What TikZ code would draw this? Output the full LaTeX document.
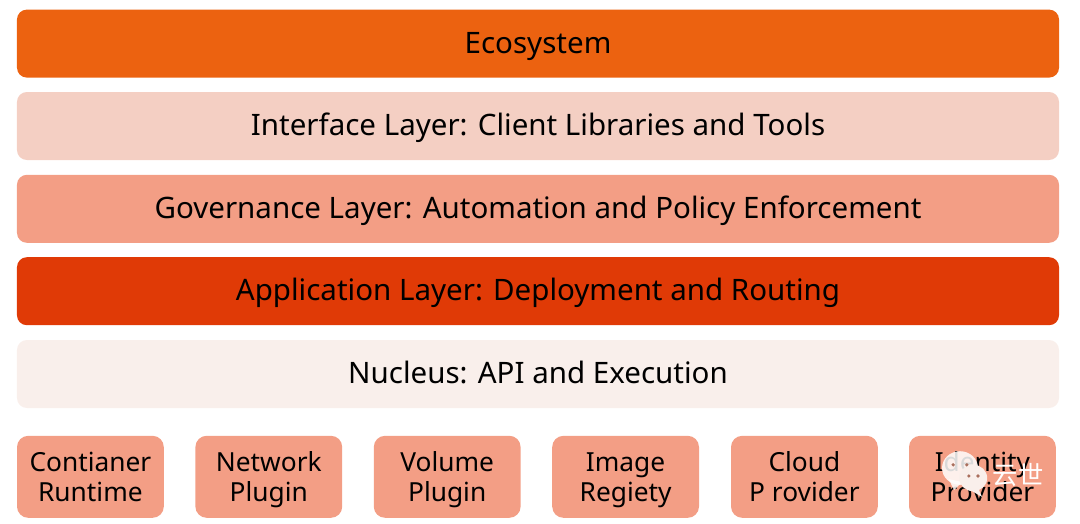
\documentclass[tikz,border=0pt]{standalone}
\usepackage{fontspec}
\setmainfont{Noto Sans}
\newfontfamily\cjkfont{Noto Sans CJK SC}
\usetikzlibrary{positioning}
\definecolor{ecoorange}{RGB}{236,98,16}
\definecolor{ifacepink}{RGB}{244,207,195}
\definecolor{govsalmon}{RGB}{243,158,133}
\definecolor{appred}{RGB}{224,58,6}
\definecolor{nucleuspale}{RGB}{249,239,235}
\tikzset{
  layerbox/.style={rounded corners=7pt, minimum width=26.05cm, minimum height=1.7cm, inner sep=0pt, text height=18pt, text depth=4.6pt, font=\fontsize{21}{21}\selectfont, text=black},
  pluginbox/.style={rounded corners=8pt, fill=govsalmon, minimum width=3.67cm, minimum height=2.05cm, inner sep=0pt, text height=39.6pt, text depth=4pt, font=\fontsize{18.7}{21.3}\selectfont, align=center, text=black},
}

\begin{document}
\begin{tikzpicture}
  \useasboundingbox (0,0) rectangle (27,-13.075);

  % Layer stack
  \node[layerbox, fill=ecoorange] (ecosystem) at (13.45,-1.09) {Ecosystem};
  \node[layerbox, fill=ifacepink] (interface) at (13.45,-3.15) {Interface Layer: Client Libraries and Tools};
  \node[layerbox, fill=govsalmon] (governance) at (13.45,-5.22) {Governance Layer: Automation and Policy Enforcement};
  \node[layerbox, fill=appred] (application) at (13.45,-7.28) {Application Layer: Deployment and Routing};
  \node[layerbox, fill=nucleuspale] (nucleus) at (13.45,-9.35) {Nucleus: API and Execution};

  % Plugins
  \foreach \x/\name/\label in {2.26/runtime/Contianer\\Runtime, 6.72/network/Network\\Plugin, 11.18/volume/Volume\\Plugin, 15.64/image/Image\\Regiety, 20.11/cloud/Cloud\\P rovider, 24.56/identity/Identity\\Provider} {
    \node[pluginbox] (\name) at (\x,-11.92) {\label};
  }

  % Watermark
  \fill[white, opacity=0.85] (24,-11.7) ellipse (0.45 and 0.42);
  \fill[white, opacity=0.85] (23.72,-11.98) -- (23.85,-12.25) -- (24.05,-12.05) -- cycle;
  \fill[nucleuspale] (24.33,-11.95) ellipse (0.35 and 0.33);
  \fill[nucleuspale] (24.45,-12.2) -- (24.55,-12.42) -- (24.25,-12.25) -- cycle;
  \foreach \x/\y in {23.83/-11.62, 24.17/-11.62, 24.22/-11.9, 24.45/-11.9} {
    \fill[govsalmon!70!black] (\x,\y) circle (0.045);
  }
  \node[text=white, font=\cjkfont\fontsize{18}{18}\selectfont, inner sep=0pt] (mark) at (25.45,-11.87) {云世};
\end{tikzpicture}
\end{document}
